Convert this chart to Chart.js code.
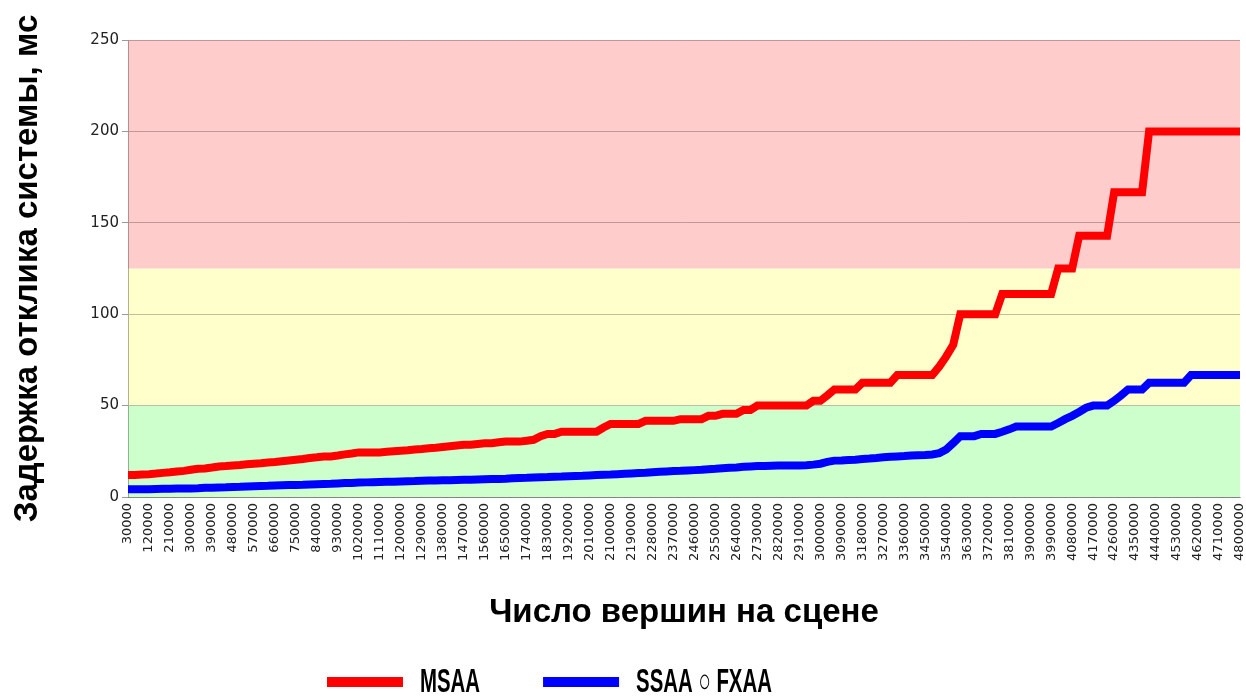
<!DOCTYPE html>
<html>
<head>
<meta charset="utf-8">
<script src="https://cdn.jsdelivr.net/npm/chart.js@4.4.0/dist/chart.umd.min.js"></script>
<style>
    html, body { margin: 0; padding: 0; background: #fff; }
    #wrap { width: 1246px; height: 697px; }
</style>
</head>
<body>
<div id="wrap"><canvas id="latencyChart"></canvas></div>
<script>
// Число вершин на сцене (категории оси X)
const vertexCounts = [
    30000, 60000, 90000, 120000, 150000, 180000, 210000, 240000, 270000, 300000,
    330000, 360000, 390000, 420000, 450000, 480000, 510000, 540000, 570000, 600000,
    630000, 660000, 690000, 720000, 750000, 780000, 810000, 840000, 870000, 900000,
    930000, 960000, 990000, 1020000, 1050000, 1080000, 1110000, 1140000, 1170000, 1200000,
    1230000, 1260000, 1290000, 1320000, 1350000, 1380000, 1410000, 1440000, 1470000, 1500000,
    1530000, 1560000, 1590000, 1620000, 1650000, 1680000, 1710000, 1740000, 1770000, 1800000,
    1830000, 1860000, 1890000, 1920000, 1950000, 1980000, 2010000, 2040000, 2070000, 2100000,
    2130000, 2160000, 2190000, 2220000, 2250000, 2280000, 2310000, 2340000, 2370000, 2400000,
    2430000, 2460000, 2490000, 2520000, 2550000, 2580000, 2610000, 2640000, 2670000, 2700000,
    2730000, 2760000, 2790000, 2820000, 2850000, 2880000, 2910000, 2940000, 2970000, 3000000,
    3030000, 3060000, 3090000, 3120000, 3150000, 3180000, 3210000, 3240000, 3270000, 3300000,
    3330000, 3360000, 3390000, 3420000, 3450000, 3480000, 3510000, 3540000, 3570000, 3600000,
    3630000, 3660000, 3690000, 3720000, 3750000, 3780000, 3810000, 3840000, 3870000, 3900000,
    3930000, 3960000, 3990000, 4020000, 4050000, 4080000, 4110000, 4140000, 4170000, 4200000,
    4230000, 4260000, 4290000, 4320000, 4350000, 4380000, 4410000, 4440000, 4470000, 4500000,
    4530000, 4560000, 4590000, 4620000, 4650000, 4680000, 4710000, 4740000, 4770000, 4800000
];

// Задержка, мс
const msaaLatency = [
    12.0, 12.0, 12.3, 12.5, 12.8, 13.2, 13.5, 13.9, 14.3, 14.9,
    15.4, 15.6, 16.1, 16.7, 16.9, 17.2, 17.5, 17.9, 18.2, 18.5,
    18.9, 19.2, 19.6, 20.0, 20.4, 20.8, 21.3, 21.7, 22.2, 22.2,
    22.7, 23.3, 23.8, 24.4, 24.4, 24.4, 24.4, 24.7, 25.0, 25.3,
    25.6, 26.0, 26.3, 26.7, 27.0, 27.4, 27.8, 28.2, 28.6, 28.6,
    29.0, 29.4, 29.4, 29.9, 30.3, 30.3, 30.3, 30.8, 31.3, 33.3,
    34.5, 34.5, 35.7, 35.7, 35.7, 35.7, 35.7, 35.7, 38.0, 40.0,
    40.0, 40.0, 40.0, 40.0, 41.7, 41.7, 41.7, 41.7, 41.7, 42.6,
    42.6, 42.6, 42.6, 44.4, 44.4, 45.5, 45.5, 45.5, 47.6, 47.6,
    50.0, 50.0, 50.0, 50.0, 50.0, 50.0, 50.0, 50.0, 52.6, 52.6,
    55.6, 58.8, 58.8, 58.8, 58.8, 62.5, 62.5, 62.5, 62.5, 62.5,
    66.7, 66.7, 66.7, 66.7, 66.7, 66.7, 71.4, 76.9, 83.3, 100,
    100, 100, 100, 100, 100, 111.1, 111.1, 111.1, 111.1, 111.1,
    111.1, 111.1, 111.1, 125, 125, 125, 142.9, 142.9, 142.9, 142.9,
    142.9, 166.7, 166.7, 166.7, 166.7, 166.7, 200, 200, 200, 200,
    200, 200, 200, 200, 200, 200, 200, 200, 200, 200
];

const ssaaFxaaLatency = [
    4.2, 4.2, 4.3, 4.3, 4.4, 4.5, 4.5, 4.6, 4.7, 4.7,
    4.8, 5.0, 5.1, 5.2, 5.3, 5.5, 5.6, 5.8, 5.9, 6.0,
    6.1, 6.3, 6.4, 6.5, 6.6, 6.7, 6.9, 7.0, 7.1, 7.2,
    7.4, 7.6, 7.7, 7.9, 8.0, 8.1, 8.2, 8.3, 8.4, 8.5,
    8.6, 8.7, 8.9, 9.0, 9.0, 9.1, 9.2, 9.3, 9.4, 9.5,
    9.6, 9.7, 9.8, 9.9, 10.0, 10.2, 10.4, 10.5, 10.7, 10.8,
    10.9, 11.1, 11.2, 11.4, 11.5, 11.6, 11.8, 12.0, 12.2, 12.3,
    12.5, 12.7, 12.9, 13.1, 13.3, 13.6, 13.8, 14.0, 14.2, 14.3,
    14.5, 14.7, 14.9, 15.2, 15.4, 15.7, 16.0, 16.2, 16.5, 16.7,
    16.9, 17.0, 17.1, 17.2, 17.2, 17.3, 17.3, 17.4, 17.7, 18.2,
    19.2, 19.9, 20.0, 20.2, 20.4, 20.8, 21.0, 21.3, 21.7, 22.0,
    22.2, 22.4, 22.7, 22.9, 23.0, 23.3, 24.0, 26.0, 29.5, 33.3,
    33.3, 33.3, 34.5, 34.5, 34.5, 35.7, 37.0, 38.5, 38.5, 38.5,
    38.5, 38.5, 38.5, 40.5, 42.6, 44.4, 46.5, 48.8, 50.0, 50.0,
    50.0, 52.6, 55.6, 58.8, 58.8, 58.8, 62.5, 62.5, 62.5, 62.5,
    62.5, 62.5, 66.7, 66.7, 66.7, 66.7, 66.7, 66.7, 66.7, 66.7
];

const seriesNames = ['MSAA', 'SSAA ○ FXAA'];
const yTicks = [0, 50, 100, 150, 200, 250];

// Зоны комфорта: границы в мс и цвета фона
const zoneLimits = [0, 50, 125, 250];
const zoneColors = ['#ccffcc', '#ffffcc', '#ffcccc'];

// Фон зон под сеткой
const zonesPlugin = {
    id: 'zones',
    beforeDraw(chart) {
        const { ctx, chartArea, scales } = chart;
        ctx.save();
        for (let i = 0; i < zoneColors.length; i++) {
            const top = scales.y.getPixelForValue(zoneLimits[i + 1]);
            const bottom = scales.y.getPixelForValue(zoneLimits[i]);
            ctx.fillStyle = zoneColors[i];
            ctx.fillRect(chartArea.left, top, chartArea.right - chartArea.left, bottom - top);
        }
        ctx.restore();
    }
};

// Легенда снизу: толстая линия + сжатый жирный текст
const bottomLegendPlugin = {
    id: 'bottomLegend',
    afterDraw(chart, args, opts) {
        const { ctx } = chart;
        let x = opts.startX;
        const y = chart.height - opts.bottomOffset;
        ctx.save();
        chart.data.datasets.forEach(ds => {
            ctx.strokeStyle = ds.borderColor;
            ctx.lineWidth = 10;
            ctx.beginPath();
            ctx.moveTo(x, y);
            ctx.lineTo(x + opts.lineLength, y);
            ctx.stroke();
            x += opts.lineLength + opts.textGap;

            ctx.font = 'bold 34px "Liberation Sans", Arial, sans-serif';
            ctx.fillStyle = '#000';
            ctx.textBaseline = 'middle';
            ctx.save();
            ctx.translate(x, y + 1);
            ctx.scale(opts.squeeze, 1);
            ctx.fillText(ds.label, 0, 0);
            ctx.restore();
            x += ctx.measureText(ds.label).width * opts.squeeze + opts.itemGap;
        });
        ctx.restore();
    }
};

const titleFont = { family: '"Liberation Sans", Arial, sans-serif', size: 33, weight: 'bold' };

const canvas = document.getElementById('latencyChart');
new Chart(canvas, {
    type: 'line',
    data: {
        labels: vertexCounts,
        datasets: [
            {
                label: seriesNames[0],
                data: msaaLatency,
                borderColor: '#ff0000',
                backgroundColor: '#ff0000',
                borderWidth: 8,
                pointRadius: 0,
                tension: 0,
                fill: false
            },
            {
                label: seriesNames[1],
                data: ssaaFxaaLatency,
                borderColor: '#0000ff',
                backgroundColor: '#0000ff',
                borderWidth: 8,
                pointRadius: 0,
                tension: 0,
                fill: false
            }
        ]
    },
    options: {
        responsive: true,
        maintainAspectRatio: false,
        animation: false,
        layout: {
            padding: { top: 40, right: 0, bottom: 60, left: 0 }
        },
        plugins: {
            legend: { display: false },
            tooltip: { enabled: false },
            bottomLegend: {
                startX: 327,
                bottomOffset: 15,
                lineLength: 76,
                textGap: 17,
                itemGap: 63,
                squeeze: 0.6
            }
        },
        scales: {
            x: {
                type: 'category',
                offset: false,
                grid: { display: false, drawTicks: false },
                border: { display: true, color: 'rgba(0, 0, 0, 0.3)' },
                ticks: {
                    autoSkip: false,
                    minRotation: 90,
                    maxRotation: 90,
                    padding: 6,
                    color: '#222',
                    font: { family: '"DejaVu Sans"', size: 13 },
                    callback: function (value, index) {
                        return index % 3 === 0 ? this.getLabelForValue(value) : '';
                    }
                },
                title: {
                    display: true,
                    text: 'Число вершин на сцене',
                    color: '#000',
                    font: titleFont,
                    padding: { top: 0, bottom: 4 }
                },
                afterFit(scale) {
                    scale.height = 140;
                    scale.paddingRight = 6;
                }
            },
            y: {
                min: yTicks[0],
                max: yTicks[yTicks.length - 1],
                grid: {
                    color: 'rgba(0, 0, 0, 0.25)',
                    tickLength: 6,
                    tickColor: 'rgba(0, 0, 0, 0.4)'
                },
                border: { display: true, color: 'rgba(0, 0, 0, 0.3)' },
                afterBuildTicks(scale) {
                    scale.ticks = yTicks.map(v => ({ value: v }));
                },
                ticks: {
                    padding: 3,
                    color: '#222',
                    font: { family: '"DejaVu Sans"', size: 15 }
                },
                title: {
                    display: true,
                    text: 'Задержка отклика системы, мс',
                    color: '#000',
                    font: titleFont,
                    padding: { top: 8, bottom: 0 }
                },
                afterFit(scale) {
                    scale.width = 128;
                    scale.paddingTop = 0;
                }
            }
        }
    },
    plugins: [zonesPlugin, bottomLegendPlugin]
});
</script>
</body>
</html>
